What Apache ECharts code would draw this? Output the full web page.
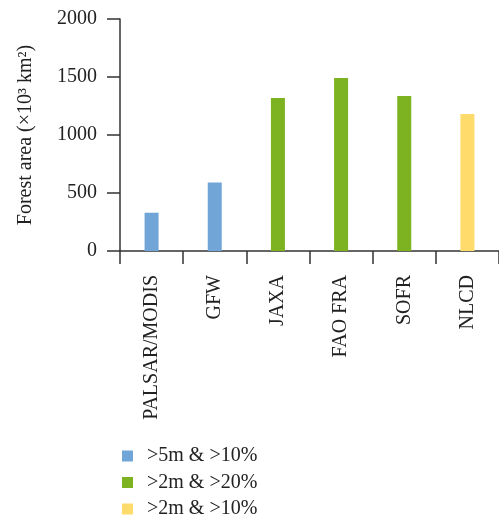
<!DOCTYPE html>
<html>
<head>
<meta charset="utf-8">
<script src="https://cdn.jsdelivr.net/npm/echarts@6/dist/echarts.min.js"></script>
<style>html,body{margin:0;padding:0;background:#fff}#c{width:499px;height:517px}</style>
</head>
<body>
<div id="c"></div>
<script>
const categories = ['PALSAR/MODIS', 'GFW', 'JAXA', 'FAO FRA', 'SOFR', 'NLCD'];
const seriesNames = ['>5m & >10%', '>2m & >20%', '>2m & >10%'];
const values5m10 = [330, 590, '-', '-', '-', '-'];
const values2m20 = ['-', '-', 1320, 1492, 1337, '-'];
const values2m10 = ['-', '-', '-', '-', '-', 1182];
const colors = ['#72a5d7', '#7db321', '#ffdb6b'];
const yTicks = [0, 500, 1000, 1500, 2000];

const font = 'Liberation Serif';
const fs = 20;
const chart = echarts.init(document.getElementById('c'));
const mk = (name, data, color) => ({
  name, type: 'bar', stack: 'all', data, barWidth: 14,
  itemStyle: { color }
});
chart.setOption({
  animation: false,
  textStyle: { fontFamily: font },
  grid: { left: 120, right: 0, top: 19, bottom: 266, containLabel: false },
  legend: {
    orient: 'vertical', left: 122, top: 446, height: 90, padding: 0,
    icon: 'rect', itemWidth: 11, itemHeight: 11, itemGap: 6.5,
    data: seriesNames,
    textStyle: { fontFamily: font, fontSize: fs, lineHeight: 20, color: '#222', padding: [0, 0, 0, 9] }
  },
  xAxis: {
    type: 'category', data: categories,
    axisLine: { lineStyle: { color: '#333', width: 1.5 } },
    axisTick: { show: true, length: 13, alignWithLabel: false, lineStyle: { color: '#333', width: 1.5 } },
    axisLabel: { rotate: 90, margin: 24, fontFamily: font, fontSize: fs, color: '#222' }
  },
  yAxis: {
    type: 'value', min: yTicks[0], max: yTicks[yTicks.length - 1], interval: 500,
    name: 'Forest area (×10³ km²)', nameLocation: 'middle', nameGap: 84,
    nameTextStyle: { fontFamily: font, fontSize: fs, color: '#222' },
    axisLine: { show: true, lineStyle: { color: '#333', width: 1.5 } },
    axisTick: { show: true, length: 13, lineStyle: { color: '#333', width: 1.5 } },
    splitLine: { show: false },
    axisLabel: { margin: 23, fontFamily: font, fontSize: fs, color: '#222', formatter: v => String(v) }
  },
  series: [
    mk(seriesNames[0], values5m10, colors[0]),
    mk(seriesNames[1], values2m20, colors[1]),
    mk(seriesNames[2], values2m10, colors[2])
  ]
});
</script>
</body>
</html>
